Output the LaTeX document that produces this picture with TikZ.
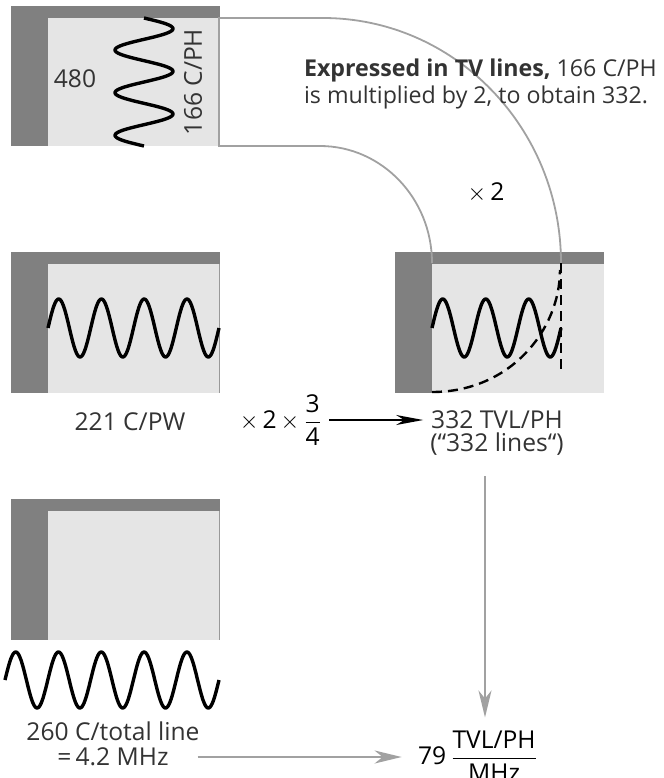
\documentclass[tikz,border=0pt]{standalone}
\usepackage{amsmath}
\usepackage{fontspec}
\setmainfont{Open Sans}
\usetikzlibrary{arrows.meta}

\begin{document}
\begin{tikzpicture}[x=0.5pt,y=-0.5pt,
            frame/.style={fill=black!50}, pane/.style={fill=black!10}, rim/.style={draw=black!40,line width=0.4pt},
            wave/.style={line width=1.7pt,line join=round}, conn/.style={draw=black!37,line width=0.9pt},
            hint/.style={line width=1.2pt,dash pattern=on 5pt off 3pt},
            lbl/.style={text=black!80,font=\fontsize{12.3}{13.5}\selectfont},
            greyarrow/.style={draw=black!37,line width=1pt,-{Stealth[length=13.5pt,width=6.5pt,inset=4pt]}},
            blackarrow/.style={line width=0.75pt,-{Stealth[length=13.5pt,width=5pt,inset=4pt]}}]
            \useasboundingbox (0,0) rectangle (664,778);

            \fill[frame] (11,6) rectangle (220,146); \fill[pane] (48,18) rectangle (219,146);
            \fill[frame] (11,252) rectangle (220,393); \fill[pane] (48,264) rectangle (219,393); \draw[rim] (219,264) -- (219,393);
            \fill[frame] (395,252) rectangle (604,393); \fill[pane] (432,264) rectangle (604,393);
            \fill[frame] (11,499) rectangle (220,640); \fill[pane] (48,511) rectangle (219,640); \draw[rim] (219,511) -- (219,640);

            \draw[wave] plot[domain=18:146,samples=150] ({144+29*sin(8.437*(\x-18))},\x);
            \draw[wave] plot[domain=48:219,samples=180] (\x,{328-29*sin(8.421*(\x-48))});
            \draw[wave] plot[domain=432:561,samples=150] (\x,{328-29*sin(8.372*(\x-432))});
            \draw[wave] plot[domain=5:219,samples=220] (\x,{680-28*sin(8.411*(\x-5))});

            \draw[conn] (432,263) .. controls (432,198.4) and (381.8,146) .. (320,146) -- (219,146) -- (219,18) -- (323,18) .. controls (454.4,18) and (561,127.7) .. (561,263);
            \draw[hint] (561,263) -- (561,373); \draw[hint] (432,392) .. controls (510,392) and (560,330) .. (560,270);

            \node[lbl] (rows) at (75,79) {480};
            \node[lbl,rotate=90] (cph) at (193,82) {166 C/PH};
            \node[lbl,align=left,anchor=west,font=\fontsize{11.6}{13.5}\selectfont] (note) at (297,84) {\textbf{Expressed in TV lines,} 166 C/PH\\is multiplied by 2, to obtain 332.};
            \node[lbl,text=black] (double) at (486,193) {${\times}\,\mbox{2}$};
            \node[lbl] (cpw) at (130,422) {221 C/PW};
            \node[lbl,text=black] (mult) at (281,420) {${\times}\,\mbox{2}\,{\times}\,\dfrac{\mbox{3}}{\mbox{4}}$};
            \node[lbl,align=center,font=\fontsize{12.3}{11.5}\selectfont] (tvl) at (497,433) {332 TVL/PH\\(“332 lines“)};
            \node[lbl] (total) at (113,731) {260 C/total line};
            \node[lbl] (mhz) at (113,757) {=\,4.2 MHz};
            \node[lbl,text=black,inner sep=1pt] (res) at (478,756) {$\mbox{79}\,\dfrac{\mbox{TVL/PH}}{\mbox{MHz}}$};

            \draw[blackarrow] (mult.east) -- (mult.east -| tvl.west);
            \draw[greyarrow,shorten <=11pt,shorten >=7pt] (mhz.east) -- (mhz.east -| res.west);
            \draw[greyarrow,shorten <=7pt,shorten >=5.5pt] ([xshift=-6pt]tvl.south) -- ([xshift=-6pt]tvl.south |- res.north);
        \end{tikzpicture}
\end{document}
